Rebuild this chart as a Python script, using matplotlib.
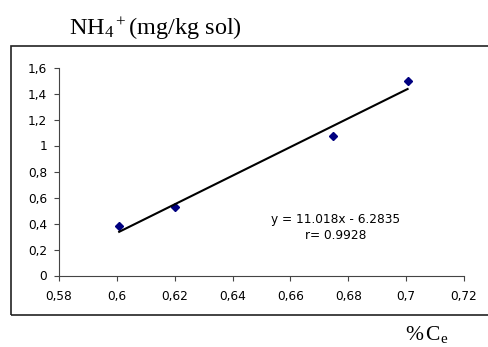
import matplotlib
matplotlib.use("Agg")
import matplotlib.pyplot as plt
from matplotlib.patches import Rectangle
import numpy as np

# Data
carbon = [0.6008, 0.620, 0.6748, 0.7005]
nh4 = [0.383, 0.525, 1.073, 1.496]
slope, intercept = 11.018, -6.2835
x_ticks = [0.58, 0.60, 0.62, 0.64, 0.66, 0.68, 0.70, 0.72]
x_labels = ["0,58", "0,6", "0,62", "0,64", "0,66", "0,68", "0,7", "0,72"]
y_ticks = [0, 0.2, 0.4, 0.6, 0.8, 1.0, 1.2, 1.4, 1.6]
y_labels = ["0", "0,2", "0,4", "0,6", "0,8", "1", "1,2", "1,4", "1,6"]

plt.rcParams['mathtext.fontset'] = 'custom'
plt.rcParams['mathtext.rm'] = 'Liberation Serif'
plt.rcParams['mathtext.it'] = 'Liberation Serif:italic'

W, H = 489, 347
fig = plt.figure(figsize=(W / 100, H / 100), dpi=100)
fig.patch.set_facecolor('white')

# Outer chart frame (right edge beyond the image)
frame = Rectangle((11 / W, 1 - 314.5 / H), 1.2, (314.5 - 45.5) / H,
                  transform=fig.transFigure, fill=False,
                  edgecolor='#222222', linewidth=1.2, clip_on=False)
fig.patches.append(frame)

x0, x1, y0, y1 = 59, 464, 275.5, 67.5
ax = fig.add_axes([x0 / W, 1 - y0 / H, (x1 - x0) / W, (y0 - y1) / H])
ax.set_facecolor('none')

ax.plot(carbon, nh4, linestyle='none', marker='D', markersize=4.2,
        color='#000080')
xf = np.array([min(carbon), max(carbon)])
ax.plot(xf, slope * xf + intercept, color='black', linewidth=1.5)

ax.set_xlim(0.58, 0.72)
ax.set_ylim(0, 1.6)
ax.set_xticks(x_ticks)
ax.set_xticklabels(x_labels)
ax.set_yticks(y_ticks)
ax.set_yticklabels(y_labels)
for s in ['top', 'right']:
    ax.spines[s].set_visible(False)
for s in ['left', 'bottom']:
    ax.spines[s].set_color('#444444')
    ax.spines[s].set_linewidth(0.8)
ax.tick_params(direction='out', length=3.5, width=0.8, color='#444444',
               labelsize=8.7)
ax.tick_params(axis='x', pad=7)
ax.tick_params(axis='y', pad=5)
for lab in ax.get_xticklabels() + ax.get_yticklabels():
    lab.set_fontfamily('DejaVu Sans')

ax.text(0.6757, 0.427, "y = 11.018x - 6.2835", ha='center', va='center',
        fontsize=8.7, family='DejaVu Sans')
ax.text(0.6757, 0.306, "r= 0.9928", ha='center', va='center',
        fontsize=8.7, family='DejaVu Sans')

fig.text(155 / W, 1 - 35 / H, r"NH$_4$$^+$(mg/kg sol)", ha='center',
         va='baseline', fontsize=17.5, family='Liberation Serif')
fig.text(427 / W, 1 - 340 / H, r"%$\,$C$_\mathrm{e}$", ha='center',
         va='baseline', fontsize=15.5, family='Liberation Serif')

fig.savefig("out.png", dpi=100, facecolor='white')
